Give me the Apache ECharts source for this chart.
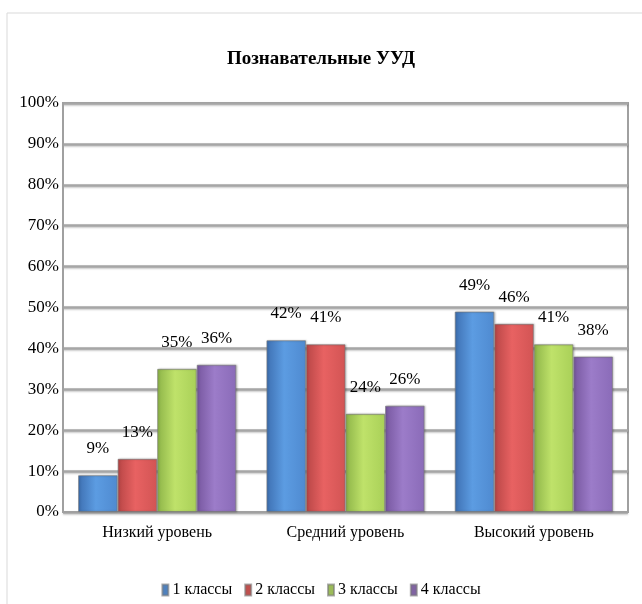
<!DOCTYPE html>
<html><head><meta charset="utf-8">
<script src="https://cdn.jsdelivr.net/npm/echarts@6/dist/echarts.min.js"></script>
<style>html,body{margin:0;padding:0;background:#fff}#c{width:642px;height:604px}</style>
</head><body><div id="c"></div>
<script>
const categories = ['Низкий уровень', 'Средний уровень', 'Высокий уровень'];
const seriesNames = ['1 классы', '2 классы', '3 классы', '4 классы'];
const s1 = [9, 42, 49];
const s2 = [13, 41, 46];
const s3 = [35, 24, 41];
const s4 = [36, 26, 38];
const yTicks = [0, 10, 20, 30, 40, 50, 60, 70, 80, 90, 100];

const FONT = '"Liberation Serif", "Times New Roman", serif';
const grads = [
  ['#3e70b2', '#5c9ce2', '#4f8ad0'],
  ['#b84646', '#e86262', '#d25454'],
  ['#8db448', '#bfe26a', '#a9d058'],
  ['#77579f', '#9c7cc9', '#8a6bb8']
];
const legendCol = ['#4F81BD', '#C0504D', '#9BBB59', '#8064A2'];
function grad(c){
  return new echarts.graphic.LinearGradient(0,0,1,0,[
    {offset:0,color:c[0]},{offset:0.45,color:c[1]},{offset:1,color:c[2]}]);
}
const datas = [s1, s2, s3, s4];
const chart = echarts.init(document.getElementById('c'));
chart.setOption({
  animation:false,
  backgroundColor:'#fff',
  graphic:[{type:'rect',shape:{x:7,y:13,width:660,height:620},style:{fill:'none',stroke:'#d9d9d9',lineWidth:1},silent:true}],
  title:{text:'Познавательные УУД',left:'center',top:45,
    textStyle:{fontFamily:FONT,fontWeight:'bold',fontSize:19,color:'#000'}},
  legend:{bottom:1,left:'center',itemWidth:6,itemHeight:11,itemGap:12,
    icon:'rect',
    textStyle:{fontFamily:FONT,fontSize:16,color:'#000',padding:[0,0,0,-1]},
    data:seriesNames.map((n,i)=>({name:n,itemStyle:{color:legendCol[i]}}))},
  grid:{left:63,right:14,top:103,bottom:92,show:true,borderColor:'#a0a0a0',borderWidth:2,backgroundColor:'#fff'},
  xAxis:{type:'category',data:categories,
    axisLine:{lineStyle:{color:'#a0a0a0',width:2}},axisTick:{show:false},
    axisLabel:{fontFamily:FONT,fontSize:16,color:'#000',margin:13}},
  yAxis:{type:'value',min:0,max:100,interval:10,
    axisLine:{show:true,lineStyle:{color:'#a0a0a0',width:2}},axisTick:{show:false},
    axisLabel:{fontFamily:FONT,fontSize:17,color:'#000',margin:4,
      formatter:v=>yTicks.includes(v)?v+'%':''},
    splitLine:{lineStyle:{color:'#a6a6a6',width:2.5,shadowColor:'rgba(0,0,0,0.25)',shadowBlur:2,shadowOffsetY:1}}},
  series:datas.map((d,i)=>({
    name:seriesNames[i],type:'bar',data:d,barGap:'0%',barCategoryGap:'16%',
    itemStyle:{color:grad(grads[i]),borderColor:'rgba(120,120,120,0.6)',borderWidth:1,
      shadowColor:'rgba(0,0,0,0.25)',shadowBlur:2,shadowOffsetX:1,shadowOffsetY:0},
    label:{show:true,position:'top',distance:18,formatter:'{c}%',
      fontFamily:FONT,fontSize:17,color:'#000'}
  }))
});
</script></body></html>
